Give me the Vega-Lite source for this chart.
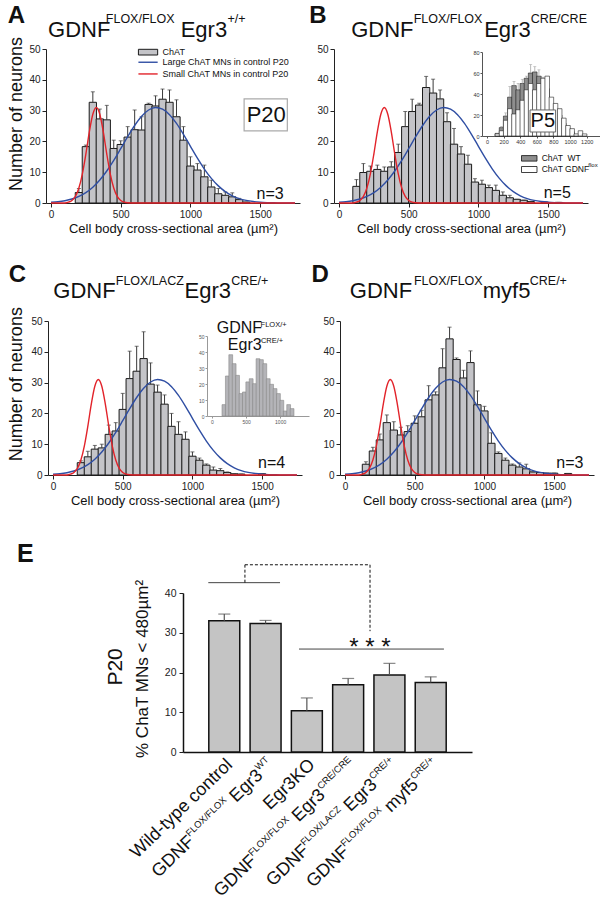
{
"$schema": "https://vega.github.io/schema/vega-lite/v6.json",
"width": 600, "height": 899,
"autosize": {"type": "none"},
"padding": 0,
"background": "#ffffff",
"config": {
  "view": {"stroke": null},
  "axis": {"grid": false, "format": "d", "labelFont": "Liberation Sans", "labelFontSize": 10, "labelColor": "#222", "labelFlush": false, "labelPadding": 2, "domainColor": "#222", "tickColor": "#222", "tickSize": 4, "titleFont": "Liberation Sans", "titleFontWeight": "normal", "titleFontSize": 13, "titleColor": "#111"},
  "text": {"font": "Liberation Sans", "color": "#111"}
},
"data": {"name": "one"},
"datasets": {
  "one": [{"k": 1}],
  "hist": [
    {"p":"A","a":200,"n":3.4,"t":4.7},{"p":"A","a":250,"n":18.3,"t":18.8},{"p":"A","a":300,"n":32.7,"t":36.1},{"p":"A","a":350,"n":27.3,"t":30.5},{"p":"A","a":400,"n":27.0,"t":31.7},{"p":"A","a":450,"n":17.7,"t":20.4},{"p":"A","a":500,"n":19.0,"t":20.2},{"p":"A","a":550,"n":21.4,"t":24.8},{"p":"A","a":600,"n":23.8,"t":30.2},{"p":"A","a":650,"n":23.7,"t":28.0},{"p":"A","a":700,"n":32.0,"t":32.4},{"p":"A","a":750,"n":31.5,"t":34.8},{"p":"A","a":800,"n":33.7,"t":37.0},{"p":"A","a":850,"n":32.7,"t":36.7},{"p":"A","a":900,"n":28.0,"t":33.5},{"p":"A","a":950,"n":20.4,"t":24.8},{"p":"A","a":1000,"n":12.0,"t":15.0},{"p":"A","a":1050,"n":10.7,"t":12.8},{"p":"A","a":1100,"n":8.5,"t":12.3},{"p":"A","a":1150,"n":5.2,"t":7.4},{"p":"A","a":1200,"n":3.0,"t":4.7},{"p":"A","a":1250,"n":2.5,"t":3.6},{"p":"A","a":1300,"n":2.0,"t":3.3},{"p":"A","a":1350,"n":1.1,"t":1.5},{"p":"A","a":1400,"n":0.3,"t":0.3},
    {"p":"B","a":125,"n":5.4,"t":7.6},{"p":"B","a":175,"n":9.9,"t":12.8},{"p":"B","a":225,"n":10.3,"t":12.0},{"p":"B","a":275,"n":10.9,"t":12.3},{"p":"B","a":325,"n":10.3,"t":11.7},{"p":"B","a":375,"n":11.7,"t":13.4},{"p":"B","a":425,"n":16.4,"t":19.1},{"p":"B","a":475,"n":24.8,"t":29.7},{"p":"B","a":525,"n":29.7,"t":33.7},{"p":"B","a":575,"n":31.8,"t":32.4},{"p":"B","a":625,"n":37.5,"t":41.1},{"p":"B","a":675,"n":35.7,"t":40.2},{"p":"B","a":725,"n":33.8,"t":36.7},{"p":"B","a":775,"n":26.4,"t":29.3},{"p":"B","a":825,"n":19.1,"t":24.2},{"p":"B","a":875,"n":15.9,"t":18.3},{"p":"B","a":925,"n":12.6,"t":15.5},{"p":"B","a":975,"n":6.8,"t":7.9},{"p":"B","a":1025,"n":6.1,"t":7.4},{"p":"B","a":1075,"n":5.0,"t":5.8},{"p":"B","a":1125,"n":4.1,"t":5.8},{"p":"B","a":1175,"n":2.5,"t":3.6},{"p":"B","a":1225,"n":1.7,"t":2.5},{"p":"B","a":1275,"n":1.2,"t":1.2},{"p":"B","a":1325,"n":0.9,"t":0.9},{"p":"B","a":1375,"n":0.5,"t":0.5},{"p":"B","a":1475,"n":0.3,"t":0.3},{"p":"B","a":1575,"n":0.2,"t":0.2},
    {"p":"C","a":200,"n":4.0,"t":4.6},{"p":"C","a":250,"n":5.9,"t":7.7},{"p":"C","a":300,"n":8.4,"t":9.6},{"p":"C","a":350,"n":8.8,"t":10.0},{"p":"C","a":400,"n":13.2,"t":16.2},{"p":"C","a":450,"n":14.3,"t":17.0},{"p":"C","a":500,"n":21.3,"t":26.5},{"p":"C","a":550,"n":31.3,"t":40.2},{"p":"C","a":600,"n":33.7,"t":41.8},{"p":"C","a":650,"n":37.8,"t":46.5},{"p":"C","a":700,"n":29.5,"t":36.4},{"p":"C","a":750,"n":26.9,"t":29.2},{"p":"C","a":800,"n":23.0,"t":26.0},{"p":"C","a":850,"n":15.8,"t":20.0},{"p":"C","a":900,"n":13.2,"t":17.3},{"p":"C","a":950,"n":11.6,"t":14.0},{"p":"C","a":1000,"n":6.1,"t":7.5},{"p":"C","a":1050,"n":4.8,"t":5.5},{"p":"C","a":1100,"n":3.2,"t":3.6},{"p":"C","a":1150,"n":1.6,"t":2.6},{"p":"C","a":1200,"n":1.4,"t":2.1},{"p":"C","a":1250,"n":0.8,"t":1.0},{"p":"C","a":1300,"n":0.4,"t":0.4},{"p":"C","a":1350,"n":0.3,"t":0.3},{"p":"C","a":1500,"n":0.4,"t":0.4},
    {"p":"D","a":150,"n":3.5,"t":4.3},{"p":"D","a":200,"n":7.8,"t":9.0},{"p":"D","a":250,"n":11.4,"t":13.3},{"p":"D","a":300,"n":17.0,"t":19.5},{"p":"D","a":350,"n":14.6,"t":17.3},{"p":"D","a":400,"n":13.0,"t":15.5},{"p":"D","a":450,"n":14.1,"t":16.0},{"p":"D","a":500,"n":16.8,"t":19.2},{"p":"D","a":550,"n":18.9,"t":21.0},{"p":"D","a":600,"n":24.4,"t":29.0},{"p":"D","a":650,"n":26.0,"t":27.0},{"p":"D","a":700,"n":34.8,"t":41.0},{"p":"D","a":750,"n":44.2,"t":48.0},{"p":"D","a":800,"n":37.5,"t":38.0},{"p":"D","a":850,"n":31.5,"t":34.0},{"p":"D","a":900,"n":36.5,"t":40.3},{"p":"D","a":950,"n":22.8,"t":27.3},{"p":"D","a":1000,"n":20.8,"t":22.3},{"p":"D","a":1050,"n":10.3,"t":13.7},{"p":"D","a":1100,"n":7.0,"t":7.5},{"p":"D","a":1150,"n":4.8,"t":5.5},{"p":"D","a":1200,"n":3.2,"t":3.6},{"p":"D","a":1250,"n":2.6,"t":3.9},{"p":"D","a":1300,"n":2.0,"t":3.5},{"p":"D","a":1350,"n":1.0,"t":1.0},{"p":"D","a":1400,"n":0.8,"t":0.8},{"p":"D","a":1450,"n":0.6,"t":0.6},{"p":"D","a":1500,"n":0.6,"t":0.6},{"p":"D","a":1600,"n":0.5,"t":0.5}
  ],
  "curves": [
    {"s":"L","a":0,"v":0.22},{"s":"L","a":50,"v":0.41},{"s":"L","a":100,"v":0.75},{"s":"L","a":150,"v":1.29},{"s":"L","a":200,"v":2.14},{"s":"L","a":250,"v":3.39},{"s":"L","a":300,"v":5.14},{"s":"L","a":350,"v":7.46},{"s":"L","a":400,"v":10.38},{"s":"L","a":450,"v":13.83},{"s":"L","a":500,"v":17.63},{"s":"L","a":550,"v":21.52},{"s":"L","a":600,"v":25.16},{"s":"L","a":650,"v":28.17},{"s":"L","a":700,"v":30.2},{"s":"L","a":750,"v":31.0},{"s":"L","a":800,"v":30.46},{"s":"L","a":850,"v":28.67},{"s":"L","a":900,"v":25.83},{"s":"L","a":950,"v":22.29},{"s":"L","a":1000,"v":18.41},{"s":"L","a":1050,"v":14.56},{"s":"L","a":1100,"v":11.03},{"s":"L","a":1150,"v":8.0},{"s":"L","a":1200,"v":5.56},{"s":"L","a":1250,"v":3.7},{"s":"L","a":1300,"v":2.35},{"s":"L","a":1350,"v":1.43},{"s":"L","a":1400,"v":0.84},{"s":"L","a":1450,"v":0.47},{"s":"L","a":1500,"v":0.25},{"s":"L","a":1550,"v":0.13},{"s":"L","a":1600,"v":0.06},{"s":"L","a":1650,"v":0.03},{"s":"L","a":1700,"v":0.01},{"s":"L","a":1750,"v":0},
    {"s":"S","a":0,"v":0},{"s":"S","a":100,"v":0},{"s":"S","a":125,"v":0.27},{"s":"S","a":150,"v":0.83},{"s":"S","a":175,"v":2.16},{"s":"S","a":200,"v":4.87},{"s":"S","a":225,"v":9.49},{"s":"S","a":250,"v":15.9},{"s":"S","a":275,"v":23.1},{"s":"S","a":300,"v":28.8},{"s":"S","a":325,"v":31.0},{"s":"S","a":350,"v":28.8},{"s":"S","a":375,"v":23.1},{"s":"S","a":400,"v":15.9},{"s":"S","a":425,"v":9.49},{"s":"S","a":450,"v":4.87},{"s":"S","a":475,"v":2.16},{"s":"S","a":500,"v":0.83},{"s":"S","a":525,"v":0.27},{"s":"S","a":550,"v":0.08},{"s":"S","a":600,"v":0},{"s":"S","a":1750,"v":0}
  ],
  "inset": [
    {"s":"wt","a":125,"n":2.5,"t":2.5},{"s":"wt","a":175,"n":8,"t":9},{"s":"wt","a":225,"n":19,"t":22},{"s":"wt","a":275,"n":37,"t":47},{"s":"wt","a":325,"n":48,"t":52},{"s":"wt","a":375,"n":44,"t":50},{"s":"wt","a":425,"n":50,"t":54},{"s":"wt","a":475,"n":55,"t":57},{"s":"wt","a":525,"n":60,"t":68},{"s":"wt","a":575,"n":61,"t":66},{"s":"wt","a":625,"n":57,"t":63},{"s":"wt","a":675,"n":50,"t":56},{"s":"wt","a":725,"n":45,"t":48},{"s":"wt","a":775,"n":30,"t":30},{"s":"wt","a":825,"n":25,"t":25},{"s":"wt","a":875,"n":20,"t":20},{"s":"wt","a":925,"n":12,"t":12},{"s":"wt","a":975,"n":7,"t":7},{"s":"wt","a":1025,"n":4,"t":4},{"s":"wt","a":1075,"n":1.5,"t":1.5},
    {"s":"gd","a":125,"n":2},{"s":"gd","a":175,"n":5},{"s":"gd","a":225,"n":15},{"s":"gd","a":275,"n":26},{"s":"gd","a":325,"n":21},{"s":"gd","a":375,"n":25},{"s":"gd","a":425,"n":34},{"s":"gd","a":475,"n":44},{"s":"gd","a":525,"n":50},{"s":"gd","a":575,"n":44},{"s":"gd","a":625,"n":50},{"s":"gd","a":675,"n":55},{"s":"gd","a":725,"n":57},{"s":"gd","a":775,"n":37},{"s":"gd","a":825,"n":31},{"s":"gd","a":875,"n":26},{"s":"gd","a":925,"n":17},{"s":"gd","a":975,"n":10},{"s":"gd","a":1025,"n":7},{"s":"gd","a":1075,"n":2},{"s":"gd","a":1125,"n":5},{"s":"gd","a":1175,"n":2}
  ],
  "insetc": [
    {"a":175,"n":7.1},{"a":225,"n":25},{"a":275,"n":38.3},{"a":325,"n":32.7},{"a":375,"n":25.4},{"a":425,"n":14},{"a":475,"n":15},{"a":525,"n":21.3},{"a":575,"n":23.3},{"a":625,"n":20.2},{"a":675,"n":35.8},{"a":725,"n":35.2},{"a":775,"n":32.7},{"a":825,"n":23.3},{"a":875,"n":19.8},{"a":925,"n":17.1},{"a":975,"n":14},{"a":1025,"n":9.8},{"a":1075,"n":3.1},{"a":1125,"n":7.1},{"a":1175,"n":4.6}
  ],
  "pct": [
    {"g":"Wild-type control","v":33.0,"t":34.7},
    {"g":"GDNF FLOX/FLOX Egr3 WT","v":32.3,"t":33.1},
    {"g":"Egr3KO","v":10.4,"t":13.6},
    {"g":"GDNF FLOX/FLOX Egr3 CRE/CRE","v":16.9,"t":18.5},
    {"g":"GDNF FLOX/LACZ Egr3 CRE/+","v":19.4,"t":22.3},
    {"g":"GDNF FLOX/FLOX myf5 CRE/+","v":17.5,"t":18.9}
  ]
},
"layer": [
  {"layer": [
    {"data":{"name":"hist"},"transform":[{"filter":"datum.p === 'A'"}],
     "mark":{"type":"bar","orient":"vertical","width":7.26,"fill":"#c4c4c8","stroke":"#1a1a1a","strokeWidth":1},
     "encoding":{
      "x":{"field":"a","type":"quantitative","scale":{"domain":[0,1750],"range":[46,300],"nice":false,"zero":false},
           "axis":{"orient":"bottom","offset":-696,"values":[0,500,1000,1500],"format":"d","title":"Cell body cross-sectional area (µm²)","titlePadding":3}},
      "y":{"field":"n","type":"quantitative","scale":{"domain":[0,50],"range":[203,49],"nice":false},
           "axis":{"orient":"left","offset":-46,"values":[0,10,20,30,40,50],"format":"d","title":null}}}},
    {"data":{"name":"hist"},"transform":[{"filter":"datum.p === 'A'"}],
     "mark":{"type":"rule","color":"#3a3a3a","strokeWidth":1},
     "encoding":{"x":{"field":"a","type":"quantitative"},"y":{"field":"n","type":"quantitative"},"y2":{"field":"t"}}},
    {"data":{"name":"hist"},"transform":[{"filter":"datum.p === 'A'"}],
     "mark":{"type":"tick","orient":"horizontal","size":4,"thickness":1,"color":"#3a3a3a"},
     "encoding":{"x":{"field":"a","type":"quantitative"},"y":{"field":"t","type":"quantitative"}}},
    {"data":{"name":"curves"},"transform":[{"filter":"datum.s === 'L'"}],
     "mark":{"type":"line","color":"#2f4ea3","strokeWidth":1.4,"interpolate":"monotone"},
     "encoding":{"x":{"field":"a","type":"quantitative"},"y":{"field":"v","type":"quantitative"}}},
    {"data":{"name":"curves"},"transform":[{"filter":"datum.s === 'S'"}],
     "mark":{"type":"line","color":"#e2232a","strokeWidth":1.4,"interpolate":"monotone"},
     "encoding":{"x":{"field":"a","type":"quantitative"},"y":{"field":"v","type":"quantitative"}}},
    {"mark":{"type":"text","text":"A","fontSize":24,"fontWeight":"bold","align":"left","baseline":"alphabetic"},"encoding":{"x":{"datum":-310},"y":{"datum":58.4}}},
    {"mark":{"type":"text","text":"GDNF","fontSize":22,"align":"left","baseline":"alphabetic"},"encoding":{"x":{"datum":-21},"y":{"datum":54.0}}},
    {"mark":{"type":"text","text":"FLOX/FLOX","fontSize":12.5,"align":"left","baseline":"alphabetic"},"encoding":{"x":{"datum":393},"y":{"datum":58.3}}},
    {"mark":{"type":"text","text":"Egr3","fontSize":22,"align":"left","baseline":"alphabetic"},"encoding":{"x":{"datum":930},"y":{"datum":54.0}}},
    {"mark":{"type":"text","text":"+/+","fontSize":12.5,"align":"left","baseline":"alphabetic"},"encoding":{"x":{"datum":1265},"y":{"datum":58.3}}},
    {"mark":{"type":"text","text":"Number of neurons","fontSize":18,"angle":270,"align":"center","baseline":"middle"},"encoding":{"x":{"datum":-241},"y":{"datum":28.9}}},
    {"mark":{"type":"rect","fill":"#c4c4c8","stroke":"#1a1a1a","strokeWidth":1},"encoding":{"x":{"datum":627},"x2":{"datum":765},"y":{"datum":49.9},"y2":{"datum":48.05}}},
    {"mark":{"type":"text","text":"ChAT","fontSize":9,"align":"left","baseline":"middle"},"encoding":{"x":{"datum":800},"y":{"datum":49.0}}},
    {"mark":{"type":"rule","color":"#2f4ea3","strokeWidth":1.4},"encoding":{"x":{"datum":627},"x2":{"datum":765},"y":{"datum":45.7}}},
    {"mark":{"type":"text","text":"Large ChAT MNs in control P20","fontSize":9,"align":"left","baseline":"middle"},"encoding":{"x":{"datum":800},"y":{"datum":45.7}}},
    {"mark":{"type":"rule","color":"#e2232a","strokeWidth":1.4},"encoding":{"x":{"datum":627},"x2":{"datum":765},"y":{"datum":41.9}}},
    {"mark":{"type":"text","text":"Small ChAT MNs in control P20","fontSize":9,"align":"left","baseline":"middle"},"encoding":{"x":{"datum":800},"y":{"datum":41.9}}},
    {"mark":{"type":"rect","fill":"#ffffff","stroke":"#aaaaaa","strokeWidth":1.2},"encoding":{"x":{"datum":1385},"x2":{"datum":1695},"y":{"datum":33.8},"y2":{"datum":23.4}}},
    {"mark":{"type":"text","text":"P20","fontSize":22,"align":"center","baseline":"middle"},"encoding":{"x":{"datum":1544},"y":{"datum":28.6}}},
    {"mark":{"type":"text","text":"n=3","fontSize":16,"align":"left","baseline":"alphabetic"},"encoding":{"x":{"datum":1474},"y":{"datum":1.3}}}
  ]},
  {"layer": [
    {"data":{"name":"hist"},"transform":[{"filter":"datum.p === 'B'"}],
     "mark":{"type":"bar","orient":"vertical","width":7.26,"fill":"#c4c4c8","stroke":"#1a1a1a","strokeWidth":1},
     "encoding":{
      "x":{"field":"a","type":"quantitative","scale":{"domain":[0,1750],"range":[334,588],"nice":false,"zero":false},
           "axis":{"orient":"bottom","offset":-696,"values":[0,500,1000,1500],"format":"d","title":"Cell body cross-sectional area (µm²)","titlePadding":3}},
      "y":{"field":"n","type":"quantitative","scale":{"domain":[0,50],"range":[203,49],"nice":false},
           "axis":{"orient":"left","offset":-334,"values":[0,10,20,30,40,50],"format":"d","title":null}}}},
    {"data":{"name":"hist"},"transform":[{"filter":"datum.p === 'B'"}],
     "mark":{"type":"rule","color":"#3a3a3a","strokeWidth":1},
     "encoding":{"x":{"field":"a","type":"quantitative"},"y":{"field":"n","type":"quantitative"},"y2":{"field":"t"}}},
    {"data":{"name":"hist"},"transform":[{"filter":"datum.p === 'B'"}],
     "mark":{"type":"tick","orient":"horizontal","size":4,"thickness":1,"color":"#3a3a3a"},
     "encoding":{"x":{"field":"a","type":"quantitative"},"y":{"field":"t","type":"quantitative"}}},
    {"data":{"name":"curves"},"transform":[{"filter":"datum.s === 'L'"}],
     "mark":{"type":"line","color":"#2f4ea3","strokeWidth":1.4,"interpolate":"monotone"},
     "encoding":{"x":{"field":"a","type":"quantitative"},"y":{"field":"v","type":"quantitative"}}},
    {"data":{"name":"curves"},"transform":[{"filter":"datum.s === 'S'"}],
     "mark":{"type":"line","color":"#e2232a","strokeWidth":1.4,"interpolate":"monotone"},
     "encoding":{"x":{"field":"a","type":"quantitative"},"y":{"field":"v","type":"quantitative"}}},
    {"mark":{"type":"text","text":"B","fontSize":24,"fontWeight":"bold","align":"left","baseline":"alphabetic"},"encoding":{"x":{"datum":-214},"y":{"datum":58.4}}},
    {"mark":{"type":"text","text":"GDNF","fontSize":22,"align":"left","baseline":"alphabetic"},"encoding":{"x":{"datum":87.5},"y":{"datum":54.0}}},
    {"mark":{"type":"text","text":"FLOX/FLOX","fontSize":12.5,"align":"left","baseline":"alphabetic"},"encoding":{"x":{"datum":535.5},"y":{"datum":58.3}}},
    {"mark":{"type":"text","text":"Egr3","fontSize":22,"align":"left","baseline":"alphabetic"},"encoding":{"x":{"datum":1041},"y":{"datum":54.0}}},
    {"mark":{"type":"text","text":"CRE/CRE","fontSize":12.5,"align":"left","baseline":"alphabetic"},"encoding":{"x":{"datum":1375},"y":{"datum":58.3}}},
    {"mark":{"type":"rect","fill":"#8e8e8e","stroke":"#111111","strokeWidth":0.8},"encoding":{"x":{"datum":1309},"x2":{"datum":1420},"y":{"datum":15.4},"y2":{"datum":13.6}}},
    {"mark":{"type":"text","text":"ChAT\u00a0\u00a0WT","fontSize":8.5,"align":"left","baseline":"middle"},"encoding":{"x":{"datum":1454},"y":{"datum":14.5}}},
    {"mark":{"type":"rect","fill":"#ffffff","stroke":"#111111","strokeWidth":0.8},"encoding":{"x":{"datum":1309},"x2":{"datum":1420},"y":{"datum":11.85},"y2":{"datum":9.9}}},
    {"mark":{"type":"text","text":"ChAT GDNF","fontSize":8.5,"align":"left","baseline":"middle"},"encoding":{"x":{"datum":1454},"y":{"datum":10.9}}},
    {"mark":{"type":"text","text":"flox","fontSize":6,"align":"left","baseline":"middle"},"encoding":{"x":{"datum":1788},"y":{"datum":12.3}}},
    {"mark":{"type":"text","text":"n=5","fontSize":16,"align":"left","baseline":"alphabetic"},"encoding":{"x":{"datum":1468},"y":{"datum":1.6}}}
  ]},
  {"layer": [
    {"data":{"name":"inset"},"transform":[{"filter":"datum.s === 'wt'"}],
     "mark":{"type":"bar","orient":"vertical","width":4.54,"fill":"#8e8e8e","stroke":"#222222","strokeWidth":0.6},
     "encoding":{
      "x":{"field":"a","type":"quantitative","scale":{"domain":[0,1300],"range":[482,600],"nice":false,"zero":false},
           "axis":{"orient":"bottom","offset":-763,"values":[0,200,400,600,800,1000,1200],"format":"d","title":null,"labelFontSize":5.5,"tickSize":2,"labelPadding":1,"labelColor":"#333","domainColor":"#555","tickColor":"#555"}},
      "y":{"field":"n","type":"quantitative","scale":{"domain":[0,80],"range":[136,52],"nice":false},
           "axis":{"orient":"left","offset":-482,"values":[0,20,40,60,80],"format":"d","title":null,"labelFontSize":5.5,"tickSize":2,"labelPadding":1,"labelColor":"#333","domainColor":"#555","tickColor":"#555"}}}},
    {"data":{"name":"inset"},"transform":[{"filter":"datum.s === 'wt'"}],
     "mark":{"type":"rule","color":"#999999","strokeWidth":0.7},
     "encoding":{"x":{"field":"a","type":"quantitative"},"y":{"field":"n","type":"quantitative"},"y2":{"field":"t"}}},
    {"data":{"name":"inset"},"transform":[{"filter":"datum.s === 'wt'"}],
     "mark":{"type":"tick","orient":"horizontal","size":3,"thickness":0.7,"color":"#999999"},
     "encoding":{"x":{"field":"a","type":"quantitative"},"y":{"field":"t","type":"quantitative"}}},
    {"data":{"name":"inset"},"transform":[{"filter":"datum.s === 'gd'"}],
     "mark":{"type":"bar","orient":"vertical","width":4.54,"fill":"#ffffff","stroke":"#222222","strokeWidth":0.6},
     "encoding":{"x":{"field":"a","type":"quantitative"},"y":{"field":"n","type":"quantitative"}}},
    {"mark":{"type":"rect","fill":"#ffffff","stroke":"#666666","strokeWidth":1},"encoding":{"x":{"datum":518},"x2":{"datum":826},"y":{"datum":24.8},"y2":{"datum":3.8}}},
    {"mark":{"type":"text","text":"P5","fontSize":20,"align":"center","baseline":"middle"},"encoding":{"x":{"datum":672},"y":{"datum":14.3}}}
  ]},
  {"layer": [
    {"data":{"name":"hist"},"transform":[{"filter":"datum.p === 'C'"}],
     "mark":{"type":"bar","orient":"vertical","width":7.26,"fill":"#c4c4c8","stroke":"#1a1a1a","strokeWidth":1},
     "encoding":{
      "x":{"field":"a","type":"quantitative","scale":{"domain":[0,1750],"range":[48,302],"nice":false,"zero":false},
           "axis":{"orient":"bottom","offset":-424,"values":[0,500,1000,1500],"format":"d","title":"Cell body cross-sectional area (µm²)","titlePadding":3}},
      "y":{"field":"n","type":"quantitative","scale":{"domain":[0,50],"range":[475,321],"nice":false},
           "axis":{"orient":"left","offset":-48,"values":[0,10,20,30,40,50],"format":"d","title":null}}}},
    {"data":{"name":"hist"},"transform":[{"filter":"datum.p === 'C'"}],
     "mark":{"type":"rule","color":"#3a3a3a","strokeWidth":1},
     "encoding":{"x":{"field":"a","type":"quantitative"},"y":{"field":"n","type":"quantitative"},"y2":{"field":"t"}}},
    {"data":{"name":"hist"},"transform":[{"filter":"datum.p === 'C'"}],
     "mark":{"type":"tick","orient":"horizontal","size":4,"thickness":1,"color":"#3a3a3a"},
     "encoding":{"x":{"field":"a","type":"quantitative"},"y":{"field":"t","type":"quantitative"}}},
    {"data":{"name":"curves"},"transform":[{"filter":"datum.s === 'L'"}],
     "mark":{"type":"line","color":"#2f4ea3","strokeWidth":1.4,"interpolate":"monotone"},
     "encoding":{"x":{"field":"a","type":"quantitative"},"y":{"field":"v","type":"quantitative"}}},
    {"data":{"name":"curves"},"transform":[{"filter":"datum.s === 'S'"}],
     "mark":{"type":"line","color":"#e2232a","strokeWidth":1.4,"interpolate":"monotone"},
     "encoding":{"x":{"field":"a","type":"quantitative"},"y":{"field":"v","type":"quantitative"}}},
    {"mark":{"type":"text","text":"C","fontSize":24,"fontWeight":"bold","align":"left","baseline":"alphabetic"},"encoding":{"x":{"datum":-317},"y":{"datum":62.7}}},
    {"mark":{"type":"text","text":"GDNF","fontSize":22,"align":"left","baseline":"alphabetic"},"encoding":{"x":{"datum":2},"y":{"datum":57.4}}},
    {"mark":{"type":"text","text":"FLOX/LACZ","fontSize":12.5,"align":"left","baseline":"alphabetic"},"encoding":{"x":{"datum":450},"y":{"datum":61.7}}},
    {"mark":{"type":"text","text":"Egr3","fontSize":22,"align":"left","baseline":"alphabetic"},"encoding":{"x":{"datum":944},"y":{"datum":57.4}}},
    {"mark":{"type":"text","text":"CRE/+","fontSize":12.5,"align":"left","baseline":"alphabetic"},"encoding":{"x":{"datum":1278},"y":{"datum":61.7}}},
    {"mark":{"type":"text","text":"Number of neurons","fontSize":18,"angle":270,"align":"center","baseline":"middle"},"encoding":{"x":{"datum":-255},"y":{"datum":29.5}}},
    {"mark":{"type":"text","text":"GDNF","fontSize":16,"align":"left","baseline":"alphabetic"},"encoding":{"x":{"datum":1174},"y":{"datum":46.0}}},
    {"mark":{"type":"text","text":"FLOX/+","fontSize":7.5,"align":"left","baseline":"alphabetic"},"encoding":{"x":{"datum":1489},"y":{"datum":48.2}}},
    {"mark":{"type":"text","text":"Egr3","fontSize":16,"align":"left","baseline":"alphabetic"},"encoding":{"x":{"datum":1254},"y":{"datum":40.6}}},
    {"mark":{"type":"text","text":"CRE/+","fontSize":7.5,"align":"left","baseline":"alphabetic"},"encoding":{"x":{"datum":1491},"y":{"datum":42.7}}},
    {"mark":{"type":"text","text":"n=4","fontSize":16,"align":"left","baseline":"alphabetic"},"encoding":{"x":{"datum":1471},"y":{"datum":2.3}}}
  ]},
  {"layer": [
    {"data":{"name":"insetc"},
     "mark":{"type":"bar","orient":"vertical","width":3.78,"fill":"#b4b4b8","stroke":"#888888","strokeWidth":0.6},
     "encoding":{
      "x":{"field":"a","type":"quantitative","scale":{"domain":[0,1350],"range":[207,309],"nice":false,"zero":false},
           "axis":{"orient":"bottom","offset":-483,"values":[0,500,1000],"format":"d","title":null,"labelFontSize":5,"tickSize":2,"labelPadding":1,"labelColor":"#555","domainColor":"#999","tickColor":"#999"}},
      "y":{"field":"n","type":"quantitative","scale":{"domain":[0,50],"range":[416,336],"nice":false},
           "axis":{"orient":"left","offset":-207,"values":[0,10,20,30,40,50],"format":"d","title":null,"labelFontSize":5,"tickSize":2,"labelPadding":1,"labelColor":"#555","domainColor":"#999","tickColor":"#999"}}}}
  ]},
  {"layer": [
    {"data":{"name":"hist"},"transform":[{"filter":"datum.p === 'D'"}],
     "mark":{"type":"bar","orient":"vertical","width":7.26,"fill":"#c4c4c8","stroke":"#1a1a1a","strokeWidth":1},
     "encoding":{
      "x":{"field":"a","type":"quantitative","scale":{"domain":[0,1750],"range":[340,594],"nice":false,"zero":false},
           "axis":{"orient":"bottom","offset":-424,"values":[0,500,1000,1500],"format":"d","title":"Cell body cross-sectional area (µm²)","titlePadding":3}},
      "y":{"field":"n","type":"quantitative","scale":{"domain":[0,50],"range":[475,321],"nice":false},
           "axis":{"orient":"left","offset":-340,"values":[0,10,20,30,40,50],"format":"d","title":null}}}},
    {"data":{"name":"hist"},"transform":[{"filter":"datum.p === 'D'"}],
     "mark":{"type":"rule","color":"#3a3a3a","strokeWidth":1},
     "encoding":{"x":{"field":"a","type":"quantitative"},"y":{"field":"n","type":"quantitative"},"y2":{"field":"t"}}},
    {"data":{"name":"hist"},"transform":[{"filter":"datum.p === 'D'"}],
     "mark":{"type":"tick","orient":"horizontal","size":4,"thickness":1,"color":"#3a3a3a"},
     "encoding":{"x":{"field":"a","type":"quantitative"},"y":{"field":"t","type":"quantitative"}}},
    {"data":{"name":"curves"},"transform":[{"filter":"datum.s === 'L'"}],
     "mark":{"type":"line","color":"#2f4ea3","strokeWidth":1.4,"interpolate":"monotone"},
     "encoding":{"x":{"field":"a","type":"quantitative"},"y":{"field":"v","type":"quantitative"}}},
    {"data":{"name":"curves"},"transform":[{"filter":"datum.s === 'S'"}],
     "mark":{"type":"line","color":"#e2232a","strokeWidth":1.4,"interpolate":"monotone"},
     "encoding":{"x":{"field":"a","type":"quantitative"},"y":{"field":"v","type":"quantitative"}}},
    {"mark":{"type":"text","text":"D","fontSize":24,"fontWeight":"bold","align":"left","baseline":"alphabetic"},"encoding":{"x":{"datum":-241},"y":{"datum":62.7}}},
    {"mark":{"type":"text","text":"GDNF","fontSize":22,"align":"left","baseline":"alphabetic"},"encoding":{"x":{"datum":34.4},"y":{"datum":57.4}}},
    {"mark":{"type":"text","text":"FLOX/FLOX","fontSize":12.5,"align":"left","baseline":"alphabetic"},"encoding":{"x":{"datum":494},"y":{"datum":61.7}}},
    {"mark":{"type":"text","text":"myf5","fontSize":22,"align":"left","baseline":"alphabetic"},"encoding":{"x":{"datum":988},"y":{"datum":57.4}}},
    {"mark":{"type":"text","text":"CRE/+","fontSize":12.5,"align":"left","baseline":"alphabetic"},"encoding":{"x":{"datum":1325},"y":{"datum":61.7}}},
    {"mark":{"type":"text","text":"n=3","fontSize":16,"align":"left","baseline":"alphabetic"},"encoding":{"x":{"datum":1516},"y":{"datum":2.3}}}
  ]},
  {"layer": [
    {"layer": [
      {"data":{"name":"pct"},
       "mark":{"type":"bar","fill":"#c4c4c4","stroke":"#111111","strokeWidth":1.5},
       "encoding":{
        "x":{"field":"g","type":"nominal","sort":null,"scale":{"range":[183,472],"paddingInner":0.25,"paddingOuter":0.625},
             "axis":{"orient":"bottom","offset":-147,"labels":false,"ticks":false,"title":null,"domainWidth":1.5,"domainColor":"#111"}},
        "y":{"field":"v","type":"quantitative","scale":{"domain":[0,40],"range":[752,593],"nice":false},
             "axis":{"orient":"left","offset":-183,"values":[0,10,20,30,40],"format":"d","title":null,"domainWidth":1.5,"domainColor":"#111","labelFontSize":10.5,"labelPadding":3}}}},
      {"data":{"name":"pct"},
       "mark":{"type":"rule","color":"#555555","strokeWidth":1.2},
       "encoding":{"x":{"field":"g","type":"nominal","sort":null},"y":{"field":"v","type":"quantitative"},"y2":{"field":"t"}}},
      {"data":{"name":"pct"},
       "mark":{"type":"tick","orient":"horizontal","size":12,"thickness":1.2,"color":"#555555"},
       "encoding":{"x":{"field":"g","type":"nominal","sort":null},"y":{"field":"t","type":"quantitative"}}}
    ]},
    {"layer": [
      {"mark":{"type":"rule","color":"#444444","strokeWidth":1},"encoding":{"x":{"datum":0.613,"scale":{"domain":[0,7],"range":[183,472],"nice":false,"zero":false},"axis":null},"x2":{"datum":2.35},"y":{"datum":42.6}}},
      {"mark":{"type":"rule","color":"#444444","strokeWidth":1},"encoding":{"x":{"datum":2.81,"axis":null},"x2":{"datum":6.32},"y":{"datum":25.9}}},
      {"mark":{"type":"rule","color":"#111111","strokeWidth":1,"strokeDash":[3,2]},"encoding":{"x":{"datum":1.5,"axis":null},"y":{"datum":42.6},"y2":{"datum":47.1}}},
      {"mark":{"type":"rule","color":"#111111","strokeWidth":1,"strokeDash":[3,2]},"encoding":{"x":{"datum":1.5,"axis":null},"x2":{"datum":4.53},"y":{"datum":47.1}}},
      {"mark":{"type":"rule","color":"#111111","strokeWidth":1,"strokeDash":[3,2]},"encoding":{"x":{"datum":4.53,"axis":null},"y":{"datum":47.1},"y2":{"datum":30.4}}},
      {"mark":{"type":"text","text":"* * *","fontSize":24,"align":"center","baseline":"alphabetic"},"encoding":{"x":{"datum":4.53,"axis":null},"y":{"datum":24.5}}},
      {"mark":{"type":"text","text":"E","fontSize":25,"fontWeight":"bold","align":"left","baseline":"alphabetic"},"encoding":{"x":{"datum":-4.02,"axis":null},"y":{"datum":47.8}}},
      {"mark":{"type":"text","text":"P20","fontSize":21,"angle":270,"align":"center","baseline":"middle"},"encoding":{"x":{"datum":-1.62,"axis":null},"y":{"datum":21.4}}},
      {"mark":{"type":"text","text":"% ChaT MNs < 480µm²","fontSize":17,"angle":270,"align":"center","baseline":"middle"},"encoding":{"x":{"datum":-0.98,"axis":null},"y":{"datum":20.9}}},
      {"mark":{"type":"text","text":"Wild-type control","fontSize":18,"angle":316,"align":"right","baseline":"alphabetic"},"encoding":{"x":{"datum":1.22,"axis":null},"y":{"datum":-3.5}}},
      {"mark":{"type":"text","text":"WT","fontSize":9.5,"angle":316,"align":"right","baseline":"alphabetic","dy":-8},"encoding":{"x":{"datum":2.22,"axis":null},"y":{"datum":-3.5}}},
      {"mark":{"type":"text","text":"Egr3","fontSize":18,"angle":316,"align":"right","baseline":"alphabetic","dx":-15.3},"encoding":{"x":{"datum":2.22,"axis":null},"y":{"datum":-3.5}}},
      {"mark":{"type":"text","text":"FLOX/FLOX","fontSize":9.5,"angle":316,"align":"right","baseline":"alphabetic","dx":-58.3,"dy":-8},"encoding":{"x":{"datum":2.22,"axis":null},"y":{"datum":-3.5}}},
      {"mark":{"type":"text","text":"GDNF","fontSize":18,"angle":316,"align":"right","baseline":"alphabetic","dx":-110.6},"encoding":{"x":{"datum":2.22,"axis":null},"y":{"datum":-3.5}}},
      {"mark":{"type":"text","text":"Egr3KO","fontSize":18,"angle":316,"align":"right","baseline":"alphabetic"},"encoding":{"x":{"datum":3.22,"axis":null},"y":{"datum":-3.5}}},
      {"mark":{"type":"text","text":"CRE/CRE","fontSize":9.5,"angle":316,"align":"right","baseline":"alphabetic","dy":-8},"encoding":{"x":{"datum":4.22,"axis":null},"y":{"datum":-3.5}}},
      {"mark":{"type":"text","text":"Egr3","fontSize":18,"angle":316,"align":"right","baseline":"alphabetic","dx":-43.3},"encoding":{"x":{"datum":4.22,"axis":null},"y":{"datum":-3.5}}},
      {"mark":{"type":"text","text":"FLOX/FLOX","fontSize":9.5,"angle":316,"align":"right","baseline":"alphabetic","dx":-86.3,"dy":-8},"encoding":{"x":{"datum":4.22,"axis":null},"y":{"datum":-3.5}}},
      {"mark":{"type":"text","text":"GDNF","fontSize":18,"angle":316,"align":"right","baseline":"alphabetic","dx":-138.6},"encoding":{"x":{"datum":4.22,"axis":null},"y":{"datum":-3.5}}},
      {"mark":{"type":"text","text":"CRE/+","fontSize":9.5,"angle":316,"align":"right","baseline":"alphabetic","dy":-8},"encoding":{"x":{"datum":5.22,"axis":null},"y":{"datum":-3.5}}},
      {"mark":{"type":"text","text":"Egr3","fontSize":18,"angle":316,"align":"right","baseline":"alphabetic","dx":-28.7},"encoding":{"x":{"datum":5.22,"axis":null},"y":{"datum":-3.5}}},
      {"mark":{"type":"text","text":"FLOX/LACZ","fontSize":9.5,"angle":316,"align":"right","baseline":"alphabetic","dx":-71.7,"dy":-8},"encoding":{"x":{"datum":5.22,"axis":null},"y":{"datum":-3.5}}},
      {"mark":{"type":"text","text":"GDNF","fontSize":18,"angle":316,"align":"right","baseline":"alphabetic","dx":-123.4},"encoding":{"x":{"datum":5.22,"axis":null},"y":{"datum":-3.5}}},
      {"mark":{"type":"text","text":"CRE/+","fontSize":9.5,"angle":316,"align":"right","baseline":"alphabetic","dy":-8},"encoding":{"x":{"datum":6.22,"axis":null},"y":{"datum":-3.5}}},
      {"mark":{"type":"text","text":"myf5","fontSize":18,"angle":316,"align":"right","baseline":"alphabetic","dx":-28.7},"encoding":{"x":{"datum":6.22,"axis":null},"y":{"datum":-3.5}}},
      {"mark":{"type":"text","text":"FLOX/FLOX","fontSize":9.5,"angle":316,"align":"right","baseline":"alphabetic","dx":-72.7,"dy":-8},"encoding":{"x":{"datum":6.22,"axis":null},"y":{"datum":-3.5}}},
      {"mark":{"type":"text","text":"GDNF","fontSize":18,"angle":316,"align":"right","baseline":"alphabetic","dx":-125.0},"encoding":{"x":{"datum":6.22,"axis":null},"y":{"datum":-3.5}}}
    ]}
  ],
  "resolve": {"scale": {"x": "independent"}}}
],
"resolve": {"scale": {"x": "independent", "y": "independent"}}
}
